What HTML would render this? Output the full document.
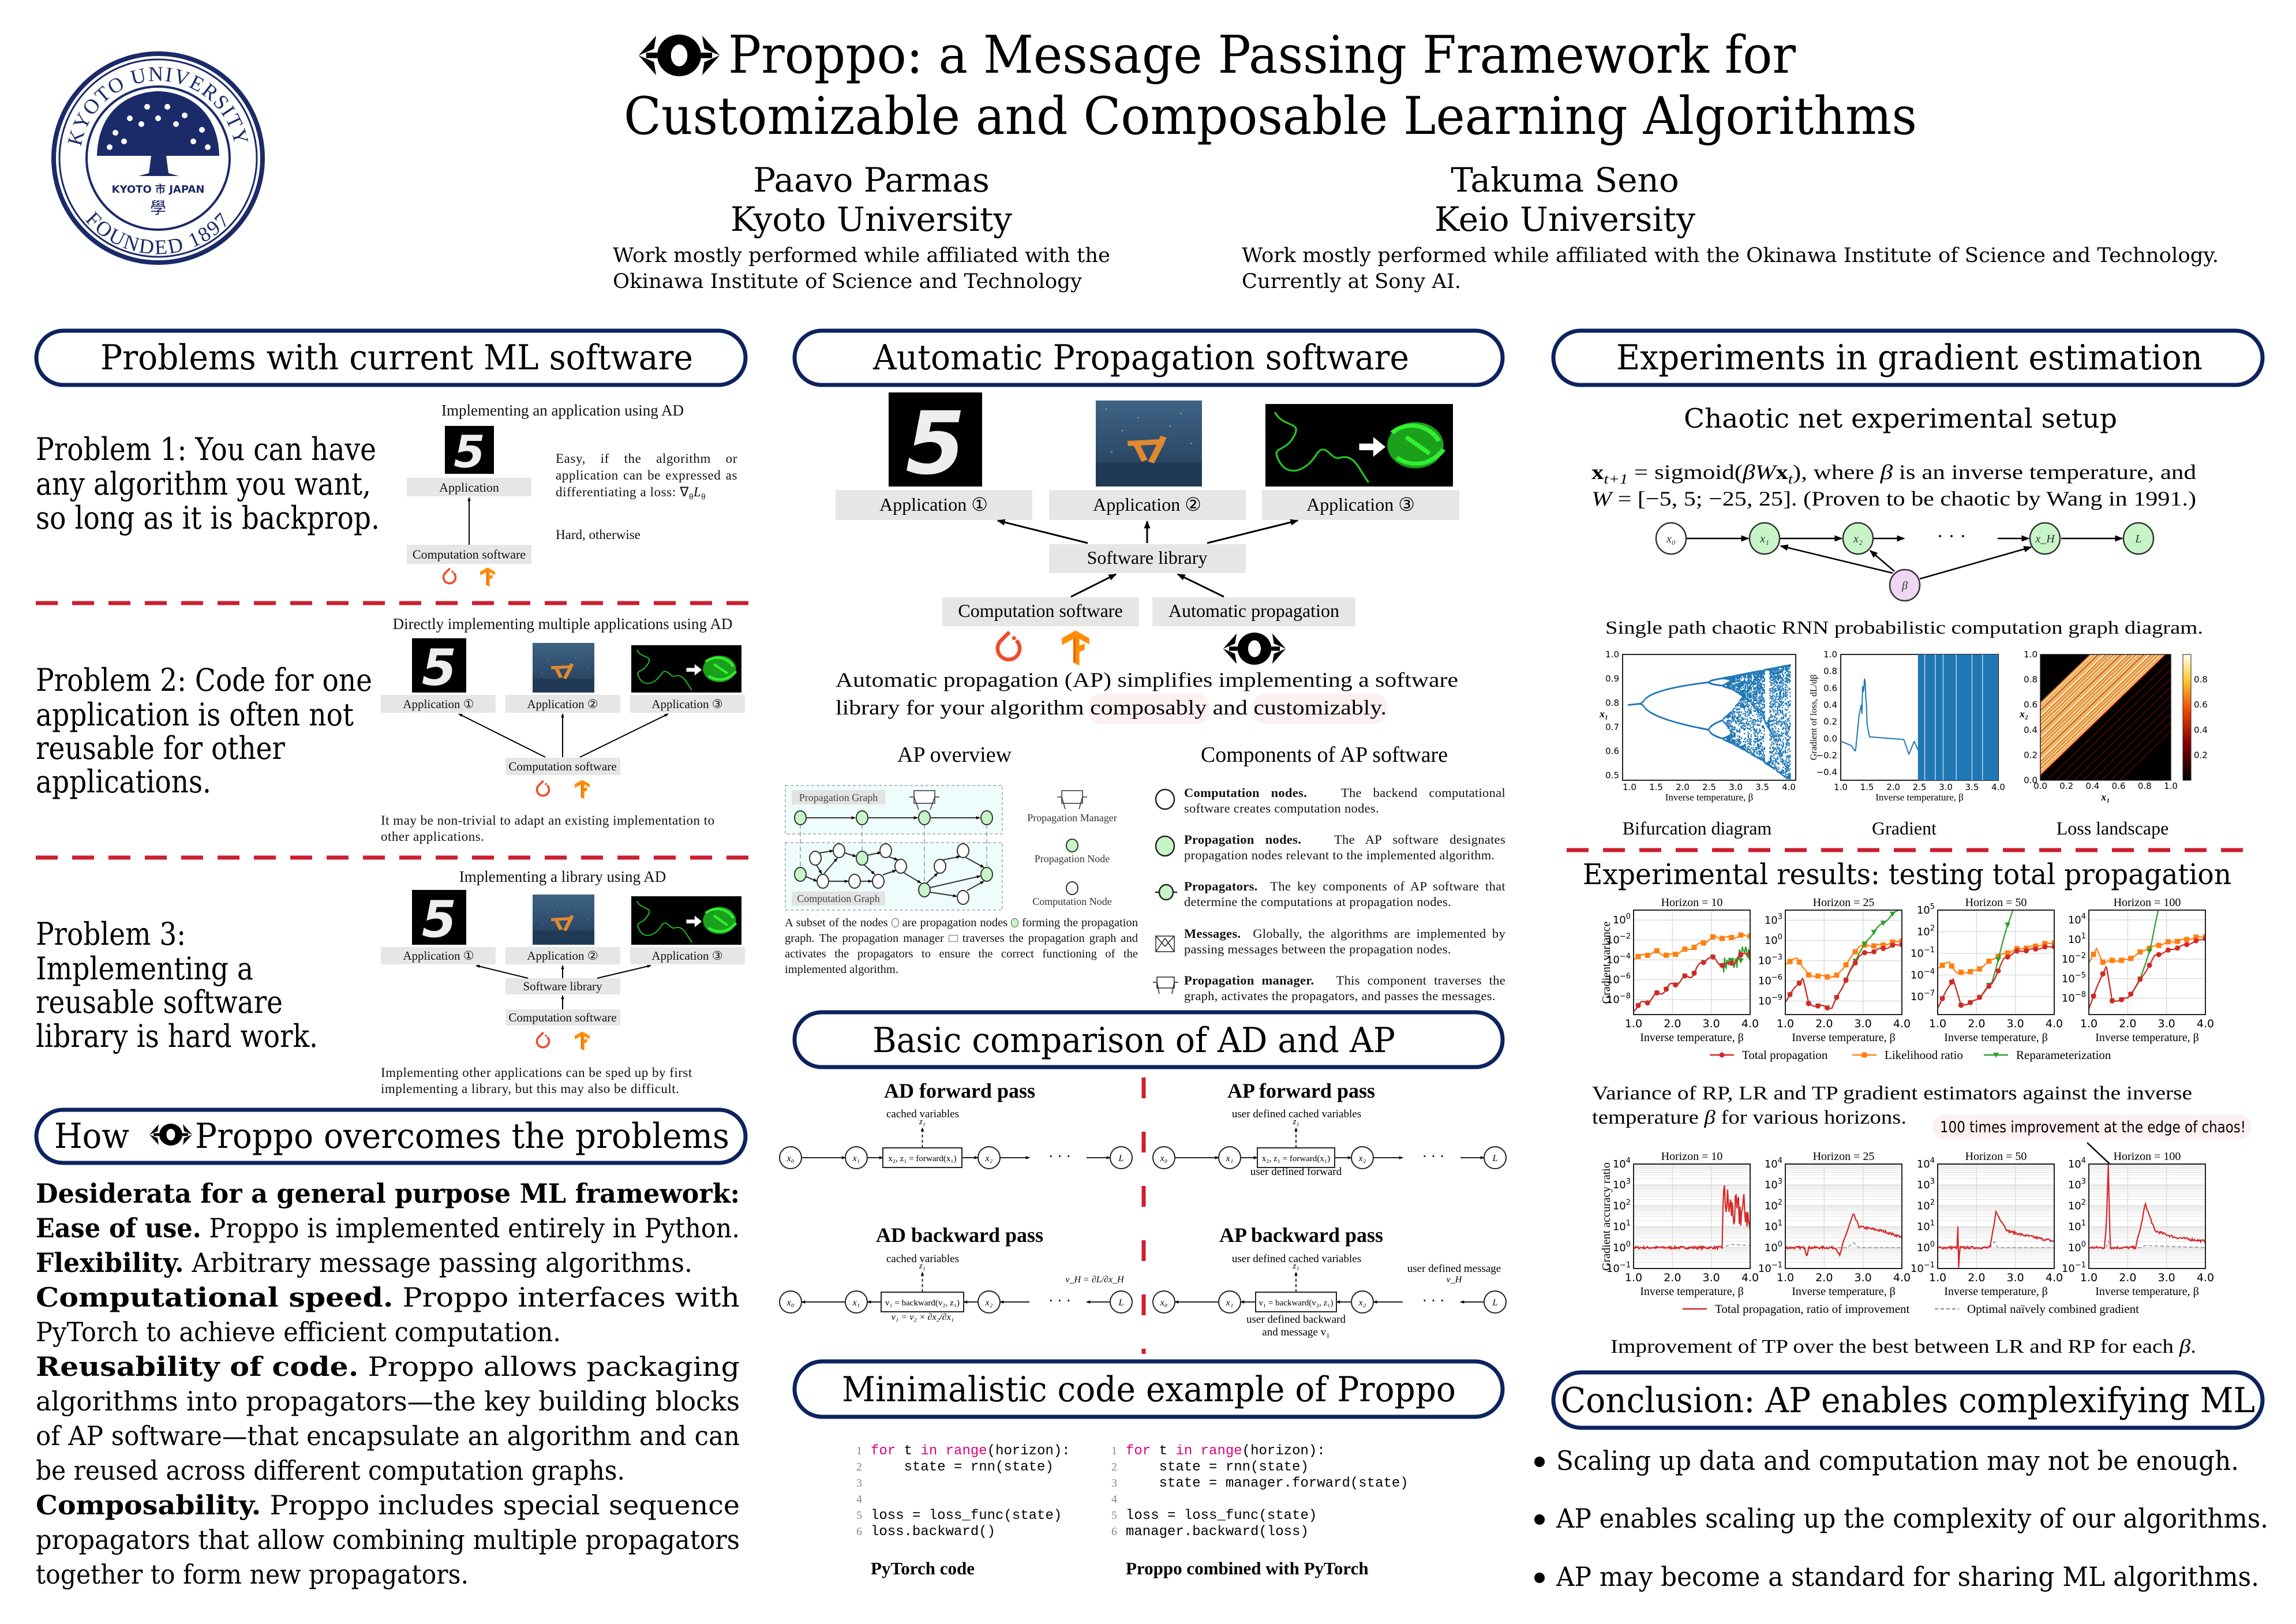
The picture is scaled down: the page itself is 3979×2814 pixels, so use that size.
<!DOCTYPE html>
<html><head><meta charset="utf-8">
<style>
html,body{margin:0;padding:0;background:#fff;}
body{width:3979px;height:2814px;position:relative;overflow:hidden;font-family:"DejaVu Serif","Liberation Serif",serif;}
svg{position:absolute;left:0;top:0;}
.p{position:absolute;font-family:"Liberation Serif",serif;color:#111;text-align:justify;}
.p b{font-weight:bold;}
</style></head><body>
<svg id="S" width="3979" height="2814" viewBox="0 0 3979 2814" xmlns="http://www.w3.org/2000/svg">
<defs>
<marker id="ah" viewBox="0 0 10 10" refX="9" refY="5" markerWidth="7" markerHeight="7" orient="auto-start-reverse" markerUnits="userSpaceOnUse"><path d="M0,1 L10,5 L0,9 z" fill="#000"/></marker>
<marker id="ah2" viewBox="0 0 10 10" refX="9" refY="5" markerWidth="14" markerHeight="14" orient="auto" markerUnits="userSpaceOnUse"><path d="M0,1 L10,5 L0,9 z" fill="#000"/></marker>
<marker id="ah3" viewBox="0 0 10 10" refX="9" refY="5" markerWidth="22" markerHeight="22" orient="auto" markerUnits="userSpaceOnUse"><path d="M0,1 L10,5 L0,9 z" fill="#000"/></marker>
<symbol id="proppo" viewBox="-75 -40 150 80">
<path d="M-74,0 L-42,-36 L-46,-12 Z M-74,0 L-42,36 L-46,12 Z M74,0 L42,-36 L46,-12 Z M74,0 L42,36 L46,12 Z" fill="#000"/>
<ellipse cx="0" cy="0" rx="40" ry="38" fill="#000"/>
<ellipse cx="0" cy="0" rx="15" ry="20" fill="#fff"/>
<rect x="-60" y="-5" width="20" height="10" fill="#000"/><rect x="40" y="-5" width="20" height="10" fill="#000"/>
</symbol>
<symbol id="torch" viewBox="0 0 40 50"><path d="M21,4 L10,15 A14.5,14.5 0 1 0 30,15" fill="none" stroke="#ee4c2c" stroke-width="5"/><circle cx="27" cy="12" r="2.6" fill="#ee4c2c"/></symbol>
<symbol id="tf" viewBox="0 0 40 50"><polygon points="2,12 20,2 38,12 38,20 25,13 25,22 32,19 32,27 25,30 25,48 17,44 17,13 2,21" fill="#ff8c00"/><polygon points="17,13 20,11 20,44 17,44" fill="#e66a00"/></symbol>
<symbol id="mn5" viewBox="0 0 100 100" preserveAspectRatio="none"><rect width="100" height="100" fill="#000"/><text x="50" y="86" font-family="DejaVu Sans" font-weight="bold" font-style="italic" font-size="92" fill="#eee" text-anchor="middle">5</text></symbol>
<linearGradient id="rbg" x1="0" y1="0" x2="0" y2="1"><stop offset="0" stop-color="#3f6384"/><stop offset="0.7" stop-color="#2b4866"/><stop offset="1" stop-color="#1e3550"/></linearGradient>
<symbol id="robot" viewBox="0 0 100 100" preserveAspectRatio="none"><rect width="100" height="100" fill="url(#rbg)"/><rect y="72" width="100" height="28" fill="#203a55"/><path d="M30,50 L62,48 M62,48 L52,72 M38,50 L46,70 M64,42 L60,52" stroke="#e08a30" stroke-width="6" fill="none"/><g fill="#9ab" opacity="0.6"><circle cx="10" cy="10" r="1"/><circle cx="40" cy="20" r="1"/><circle cx="80" cy="15" r="1"/><circle cx="25" cy="35" r="1"/><circle cx="70" cy="30" r="1"/><circle cx="90" cy="50" r="1"/><circle cx="15" cy="60" r="1"/></g></symbol>
<symbol id="protein" viewBox="0 0 200 100" preserveAspectRatio="none"><rect width="200" height="100" fill="#000"/><path d="M10,10 C20,30 40,20 30,40 C20,60 5,50 15,70 C25,90 45,80 55,60 C65,45 70,70 80,65 C95,60 100,80 110,95" stroke="#22cc22" stroke-width="2" fill="none"/><path d="M100,48 L115,48 L115,40 L128,52 L115,64 L115,56 L100,56 Z" fill="#fff"/><ellipse cx="160" cy="50" rx="30" ry="28" fill="#1aa01a"/><path d="M135,35 C150,20 175,25 185,45 M140,65 C160,80 180,70 190,55 M150,40 L175,60" stroke="#33ee33" stroke-width="5" fill="none"/></symbol>
<linearGradient id="cbar" x1="0" y1="1" x2="0" y2="0"><stop offset="0" stop-color="#000"/><stop offset="0.3" stop-color="#8a0000"/><stop offset="0.55" stop-color="#ee4400"/><stop offset="0.8" stop-color="#ffcc33"/><stop offset="1" stop-color="#fffff0"/></linearGradient>
</defs>

<!-- Kyoto logo -->
<g>
<circle cx="274" cy="274" r="181" fill="none" stroke="#1b2a68" stroke-width="8"/>
<circle cx="274" cy="274" r="171" fill="none" stroke="#1b2a68" stroke-width="3"/>
<circle cx="274" cy="274" r="124" fill="none" stroke="#1b2a68" stroke-width="4"/>
<path id="arcT" d="M 146,318 A 135 135 0 1 1 402 318" fill="none"/>
<path id="arcB" d="M 118,331 A 166 166 0 0 0 430 331" fill="none"/>
<text font-family="Liberation Serif" font-size="36" fill="#1b2a68" letter-spacing="2"><textPath href="#arcT" startOffset="50%" text-anchor="middle">KYOTO UNIVERSITY</textPath></text>
<text font-family="Liberation Serif" font-size="36" fill="#1b2a68" letter-spacing="3"><textPath href="#arcB" startOffset="50%" text-anchor="middle">FOUNDED 1897</textPath></text>
<path d="M168,270 C170,195 218,160 274,158 C330,160 378,195 380,270 Z" fill="#1b2a68"/>
<g fill="#fff"><circle cx="200" cy="230" r="5"/><circle cx="225" cy="205" r="5"/><circle cx="255" cy="185" r="5"/><circle cx="290" cy="185" r="5"/><circle cx="320" cy="200" r="5"/><circle cx="350" cy="225" r="5"/><circle cx="190" cy="255" r="5"/><circle cx="215" cy="245" r="5"/><circle cx="245" cy="215" r="5"/><circle cx="305" cy="215" r="5"/><circle cx="335" cy="245" r="5"/><circle cx="360" cy="255" r="5"/><circle cx="274" cy="205" r="5"/></g>
<path d="M262,270 L258,300 L240,305 L310,305 L292,300 L288,270 Z" fill="#1b2a68"/>
<text x="274" y="334" font-family="DejaVu Sans" font-weight="bold" font-size="18" fill="#1b2a68" text-anchor="middle">KYOTO 市 JAPAN</text>
<text x="274" y="370" font-family="Noto Sans CJK JP,sans-serif" font-size="28" fill="#1b2a68" text-anchor="middle">學</text>
</g>

<!-- Title -->
<use href="#proppo" x="1103" y="58" width="148" height="76"/>
<text x="1262" y="126" font-size="90" textLength="1850" lengthAdjust="spacingAndGlyphs">Proppo: a Message Passing Framework for</text>
<text x="1081" y="232" font-size="90" textLength="2241" lengthAdjust="spacingAndGlyphs">Customizable and Composable Learning Algorithms</text>
<g font-size="58" text-anchor="middle">
<text x="1510" y="332">Paavo Parmas</text>
<text x="1510" y="400">Kyoto University</text>
<text x="2712" y="332">Takuma Seno</text>
<text x="2712" y="400">Keio University</text>
</g>
<g font-size="35">
<text x="1062" y="454" textLength="862" lengthAdjust="spacingAndGlyphs">Work mostly performed while affiliated with the</text>
<text x="1062" y="499" textLength="813" lengthAdjust="spacingAndGlyphs">Okinawa Institute of Science and Technology</text>
<text x="2152" y="454" textLength="1693" lengthAdjust="spacingAndGlyphs">Work mostly performed while affiliated with the Okinawa Institute of Science and Technology.</text>
<text x="2152" y="499" textLength="380" lengthAdjust="spacingAndGlyphs">Currently at Sony AI.</text>
</g>

<!-- Section pills -->
<g fill="#fff" stroke="#0d2360" stroke-width="7">
<rect x="63" y="573" width="1229" height="94" rx="47"/>
<rect x="1377" y="573" width="1227" height="94" rx="47"/>
<rect x="2692" y="573" width="1229" height="94" rx="47"/>
<rect x="63" y="1923" width="1229" height="92" rx="46"/>
<rect x="1377" y="1754" width="1227" height="95" rx="47"/>
<rect x="1377" y="2359" width="1227" height="96" rx="48"/>
<rect x="2692" y="2378" width="1229" height="96" rx="48"/>
</g>
<g font-size="60">
<text x="174" y="640" textLength="1027" lengthAdjust="spacingAndGlyphs">Problems with current ML software</text>
<text x="1513" y="640" textLength="929" lengthAdjust="spacingAndGlyphs">Automatic Propagation software</text>
<text x="2801" y="640" textLength="1016" lengthAdjust="spacingAndGlyphs">Experiments in gradient estimation</text>
<text x="94" y="1989" textLength="130" lengthAdjust="spacingAndGlyphs">How</text>
<text x="338" y="1989" textLength="926" lengthAdjust="spacingAndGlyphs">Proppo overcomes the problems</text>
<text x="1512" y="1823" textLength="906" lengthAdjust="spacingAndGlyphs">Basic comparison of AD and AP</text>
<text x="1459" y="2428" textLength="1064" lengthAdjust="spacingAndGlyphs">Minimalistic code example of Proppo</text>
<text x="2705" y="2447" textLength="1203" lengthAdjust="spacingAndGlyphs">Conclusion: AP enables complexifying ML</text>
</g>
<use href="#proppo" x="258" y="1946" width="76" height="40"/>

<!-- LEFT: problems -->
<g font-size="54">
<text x="62" y="797" textLength="590" lengthAdjust="spacingAndGlyphs">Problem 1: You can have</text>
<text x="62" y="857" textLength="581" lengthAdjust="spacingAndGlyphs">any algorithm you want,</text>
<text x="62" y="916" textLength="596" lengthAdjust="spacingAndGlyphs">so long as it is backprop.</text>
<text x="62" y="1197" textLength="583" lengthAdjust="spacingAndGlyphs">Problem 2: Code for one</text>
<text x="62" y="1257" textLength="551" lengthAdjust="spacingAndGlyphs">application is often not</text>
<text x="62" y="1315" textLength="432" lengthAdjust="spacingAndGlyphs">reusable for other</text>
<text x="62" y="1373" textLength="304" lengthAdjust="spacingAndGlyphs">applications.</text>
<text x="62" y="1637" textLength="260" lengthAdjust="spacingAndGlyphs">Problem 3:</text>
<text x="62" y="1697" textLength="377" lengthAdjust="spacingAndGlyphs">Implementing a</text>
<text x="62" y="1755" textLength="428" lengthAdjust="spacingAndGlyphs">reusable software</text>
<text x="62" y="1814" textLength="489" lengthAdjust="spacingAndGlyphs">library is hard work.</text>
</g>
<g stroke="#cc1f2f" stroke-width="7" stroke-dasharray="38 25">
<line x1="62" y1="1045" x2="1308" y2="1045"/>
<line x1="62" y1="1486" x2="1308" y2="1486"/>
<line x1="2715" y1="1473" x2="3894" y2="1473"/>
<line x1="1982" y1="1867" x2="1982" y2="2346" stroke-dasharray="36 58"/>
</g>

<!-- diag 1 -->
<g font-family="Liberation Serif" fill="#111">
<text x="975" y="720" font-size="27" text-anchor="middle">Implementing an application using AD</text>
<use href="#mn5" x="771" y="738" width="85" height="83"/>
<rect x="705" y="828" width="216" height="32" fill="#e6e6e6"/>
<text x="813" y="852" font-size="22" text-anchor="middle">Application</text>
<line x1="813" y1="944" x2="813" y2="862" stroke="#000" stroke-width="2" marker-end="url(#ah)"/>
<rect x="705" y="944" width="216" height="33" fill="#e6e6e6"/>
<text x="813" y="968" font-size="22" text-anchor="middle">Computation software</text>
<use href="#torch" x="764" y="982" width="30" height="36"/>
<use href="#tf" x="830" y="982" width="30" height="36"/>
<text x="963" y="934" font-size="23">Hard, otherwise</text>

<!-- diag 2 -->
<text x="975" y="1090" font-size="27" text-anchor="middle">Directly implementing multiple applications using AD</text>
<use href="#mn5" x="714" y="1106" width="94" height="94"/>
<use href="#robot" x="923" y="1114" width="107" height="86"/>
<use href="#protein" x="1094" y="1118" width="191" height="82"/>
<rect x="660" y="1204" width="199" height="31" fill="#e6e6e6"/>
<rect x="876" y="1204" width="199" height="31" fill="#e6e6e6"/>
<rect x="1092" y="1204" width="199" height="31" fill="#e6e6e6"/>
<text x="760" y="1227" font-size="21" text-anchor="middle">Application ①</text>
<text x="975" y="1227" font-size="21" text-anchor="middle">Application ②</text>
<text x="1191" y="1227" font-size="21" text-anchor="middle">Application ③</text>
<rect x="876" y="1313" width="199" height="30" fill="#e6e6e6"/>
<text x="975" y="1335" font-size="21" text-anchor="middle">Computation software</text>
<g stroke="#000" stroke-width="2" marker-end="url(#ah)"><line x1="945" y1="1312" x2="795" y2="1237"/><line x1="975" y1="1312" x2="975" y2="1237"/><line x1="1005" y1="1312" x2="1158" y2="1237"/></g>
<use href="#torch" x="926" y="1350" width="30" height="36"/>
<use href="#tf" x="994" y="1350" width="30" height="36"/>

<!-- diag 3 -->
<text x="975" y="1528" font-size="27" text-anchor="middle">Implementing a library using AD</text>
<use href="#mn5" x="714" y="1542" width="94" height="95"/>
<use href="#robot" x="923" y="1550" width="107" height="87"/>
<use href="#protein" x="1094" y="1553" width="191" height="84"/>
<rect x="660" y="1641" width="199" height="30" fill="#e6e6e6"/>
<rect x="876" y="1641" width="199" height="30" fill="#e6e6e6"/>
<rect x="1092" y="1641" width="199" height="30" fill="#e6e6e6"/>
<text x="760" y="1663" font-size="21" text-anchor="middle">Application ①</text>
<text x="975" y="1663" font-size="21" text-anchor="middle">Application ②</text>
<text x="1191" y="1663" font-size="21" text-anchor="middle">Application ③</text>
<rect x="876" y="1695" width="199" height="28" fill="#e6e6e6"/>
<text x="975" y="1716" font-size="21" text-anchor="middle">Software library</text>
<rect x="876" y="1749" width="199" height="28" fill="#e6e6e6"/>
<text x="975" y="1770" font-size="21" text-anchor="middle">Computation software</text>
<g stroke="#000" stroke-width="2" marker-end="url(#ah)"><line x1="915" y1="1695" x2="825" y2="1673"/><line x1="975" y1="1695" x2="975" y2="1673"/><line x1="1035" y1="1695" x2="1128" y2="1673"/><line x1="975" y1="1749" x2="975" y2="1725"/></g>
<use href="#torch" x="926" y="1786" width="30" height="36"/>
<use href="#tf" x="994" y="1786" width="30" height="36"/>
</g>

<!-- How section -->
<g font-size="46">
<text x="62" y="2084" textLength="1220" lengthAdjust="spacingAndGlyphs" font-weight="bold">Desiderata for a general purpose ML framework:</text>
<text x="62" y="2144" textLength="1220" lengthAdjust="spacingAndGlyphs"><tspan font-weight="bold">Ease of use.</tspan> Proppo is implemented entirely in Python.</text>
<text x="62" y="2204" textLength="1138" lengthAdjust="spacingAndGlyphs"><tspan font-weight="bold">Flexibility.</tspan> Arbitrary message passing algorithms.</text>
<text x="62" y="2264" textLength="1220" lengthAdjust="spacingAndGlyphs"><tspan font-weight="bold">Computational speed.</tspan>  Proppo interfaces with</text>
<text x="62" y="2324" textLength="910" lengthAdjust="spacingAndGlyphs">PyTorch to achieve efficient computation.</text>
<text x="62" y="2384" textLength="1220" lengthAdjust="spacingAndGlyphs"><tspan font-weight="bold">Reusability of code.</tspan>  Proppo allows packaging</text>
<text x="62" y="2444" textLength="1220" lengthAdjust="spacingAndGlyphs">algorithms into propagators—the key building blocks</text>
<text x="62" y="2504" textLength="1220" lengthAdjust="spacingAndGlyphs">of AP software—that encapsulate an algorithm and can</text>
<text x="62" y="2564" textLength="1021" lengthAdjust="spacingAndGlyphs">be reused across different computation graphs.</text>
<text x="62" y="2624" textLength="1220" lengthAdjust="spacingAndGlyphs"><tspan font-weight="bold">Composability.</tspan>  Proppo includes special sequence</text>
<text x="62" y="2684" textLength="1220" lengthAdjust="spacingAndGlyphs">propagators that allow combining multiple propagators</text>
<text x="62" y="2744" textLength="750" lengthAdjust="spacingAndGlyphs">together to form new propagators.</text>
</g>

<!-- MIDDLE top -->
<g font-family="Liberation Serif">
<use href="#mn5" x="1540" y="680" width="162" height="163"/>
<use href="#robot" x="1899" y="694" width="184" height="149"/>
<use href="#protein" x="2193" y="700" width="325" height="143"/>
<rect x="1448" y="849" width="341" height="52" fill="#e6e6e6"/>
<rect x="1818" y="849" width="341" height="52" fill="#e6e6e6"/>
<rect x="2187" y="849" width="342" height="52" fill="#e6e6e6"/>
<text x="1618" y="885" font-size="32" text-anchor="middle">Application ①</text>
<text x="1988" y="885" font-size="32" text-anchor="middle">Application ②</text>
<text x="2358" y="885" font-size="32" text-anchor="middle">Application ③</text>
<rect x="1818" y="943" width="341" height="50" fill="#e6e6e6"/>
<text x="1988" y="977" font-size="32" text-anchor="middle">Software library</text>
<rect x="1633" y="1035" width="341" height="50" fill="#e6e6e6"/>
<rect x="1997" y="1035" width="352" height="50" fill="#e6e6e6"/>
<text x="1803" y="1069" font-size="32" text-anchor="middle">Computation software</text>
<text x="2173" y="1069" font-size="32" text-anchor="middle">Automatic propagation</text>
<g stroke="#000" stroke-width="3" marker-end="url(#ah2)"><line x1="1885" y1="941" x2="1729" y2="902"/><line x1="1988" y1="941" x2="1988" y2="903"/><line x1="2092" y1="941" x2="2249" y2="902"/><line x1="1856" y1="1034" x2="1934" y2="995"/><line x1="2121" y1="1034" x2="2041" y2="995"/></g>
<use href="#torch" x="1720" y="1090" width="56" height="66"/>
<use href="#tf" x="1836" y="1090" width="56" height="66"/>
<use href="#proppo" x="2119" y="1094" width="110" height="60"/>
<rect x="1886" y="1202" width="210" height="52" rx="22" fill="#fdf0f0"/>
<rect x="2171" y="1202" width="233" height="52" rx="22" fill="#fdf0f0"/>
<text x="1448" y="1190" font-size="36" textLength="1079" lengthAdjust="spacingAndGlyphs">Automatic propagation (AP) simplifies implementing a software</text>
<text x="1448" y="1238" font-size="36" textLength="955" lengthAdjust="spacingAndGlyphs">library for your algorithm composably and customizably.</text>
<text x="1654" y="1320" font-size="38" text-anchor="middle">AP overview</text>
<text x="2295" y="1320" font-size="38" text-anchor="middle">Components of AP software</text>
</g>

<!-- AP overview diagram -->
<g font-family="Liberation Serif">
<rect x="1361" y="1361" width="376" height="84" fill="#eefcfc" stroke="#bbb" stroke-width="2" stroke-dasharray="5 4"/>
<rect x="1361" y="1460" width="376" height="117" fill="#eefcfc" stroke="#bbb" stroke-width="2" stroke-dasharray="5 4"/>
<rect x="1372" y="1369" width="162" height="25" fill="#e3e3e3"/>
<text x="1453" y="1388" font-size="18" text-anchor="middle" fill="#444">Propagation Graph</text>
<rect x="1372" y="1545" width="162" height="24" fill="#e3e3e3"/>
<text x="1453" y="1563" font-size="18" text-anchor="middle" fill="#444">Computation Graph</text>
<g stroke="#999" stroke-width="1.5" stroke-dasharray="8 5"><line x1="1387" y1="1428" x2="1387" y2="1502"/><line x1="1494" y1="1428" x2="1494" y2="1474"/><line x1="1602" y1="1428" x2="1602" y2="1529"/><line x1="1710" y1="1428" x2="1710" y2="1502"/></g>
<g stroke="#333" stroke-width="2" marker-end="url(#ah)"><line x1="1398" y1="1417" x2="1482" y2="1417"/><line x1="1505" y1="1417" x2="1590" y2="1417"/><line x1="1613" y1="1417" x2="1698" y2="1417"/>
<line x1="1387" y1="1515" x2="1416" y2="1527"/><line x1="1415" y1="1499" x2="1424" y2="1514"/><line x1="1428" y1="1514" x2="1451" y2="1487"/><line x1="1420" y1="1478" x2="1444" y2="1474"/><line x1="1437" y1="1527" x2="1470" y2="1527"/><line x1="1492" y1="1527" x2="1511" y2="1527"/><line x1="1464" y1="1478" x2="1484" y2="1484"/><line x1="1503" y1="1482" x2="1527" y2="1477"/><line x1="1498" y1="1499" x2="1516" y2="1515"/><line x1="1541" y1="1485" x2="1556" y2="1490"/><line x1="1530" y1="1516" x2="1553" y2="1508"/><line x1="1566" y1="1512" x2="1596" y2="1530"/><line x1="1606" y1="1530" x2="1625" y2="1513"/><line x1="1634" y1="1490" x2="1664" y2="1484"/><line x1="1674" y1="1486" x2="1705" y2="1503"/><line x1="1612" y1="1538" x2="1699" y2="1518"/><line x1="1612" y1="1546" x2="1658" y2="1553"/><line x1="1676" y1="1543" x2="1705" y2="1527"/></g>
<g stroke="#333" stroke-width="2"><g fill="#c8f5c8"><ellipse cx="1387" cy="1417" rx="10" ry="12"/><ellipse cx="1494" cy="1417" rx="10" ry="12"/><ellipse cx="1602" cy="1417" rx="10" ry="12"/><ellipse cx="1710" cy="1417" rx="10" ry="12"/><ellipse cx="1387" cy="1515" rx="10" ry="12"/><ellipse cx="1494" cy="1487" rx="10" ry="12"/><ellipse cx="1602" cy="1542" rx="10" ry="12"/><ellipse cx="1710" cy="1515" rx="10" ry="12"/></g>
<g fill="#fff"><ellipse cx="1413" cy="1487" rx="10" ry="12"/><ellipse cx="1426" cy="1527" rx="10" ry="12"/><ellipse cx="1454" cy="1474" rx="10" ry="12"/><ellipse cx="1481" cy="1527" rx="10" ry="12"/><ellipse cx="1522" cy="1527" rx="10" ry="12"/><ellipse cx="1535" cy="1474" rx="10" ry="12"/><ellipse cx="1561" cy="1501" rx="10" ry="12"/><ellipse cx="1629" cy="1501" rx="10" ry="12"/><ellipse cx="1669" cy="1474" rx="10" ry="12"/><ellipse cx="1669" cy="1555" rx="10" ry="12"/></g></g>
<g stroke="#333" stroke-width="1.5" fill="#fff"><rect x="1584" y="1370" width="36" height="22"/><polyline points="1576,1381 1584,1381 1592,1403" fill="none"/><polyline points="1628,1381 1620,1381 1612,1403" fill="none"/>
<rect x="1840" y="1370" width="36" height="22"/><polyline points="1832,1381 1840,1381 1846,1402" fill="none"/><polyline points="1884,1381 1876,1381 1870,1402" fill="none"/></g>
<text x="1858" y="1423" font-size="18" text-anchor="middle" fill="#333">Propagation Manager</text>
<ellipse cx="1858" cy="1465" rx="10" ry="11" fill="#c8f5c8" stroke="#333" stroke-width="2"/>
<text x="1858" y="1494" font-size="18" text-anchor="middle" fill="#333">Propagation Node</text>
<ellipse cx="1858" cy="1539" rx="10" ry="11" fill="#fff" stroke="#333" stroke-width="2"/>
<text x="1858" y="1568" font-size="18" text-anchor="middle" fill="#333">Computation Node</text>
<g stroke="#222" stroke-width="2.5"><ellipse cx="2019" cy="1385" rx="16" ry="17" fill="#fff"/><ellipse cx="2019" cy="1466" rx="16" ry="17" fill="#c8f5c8"/><ellipse cx="2021" cy="1546" rx="12" ry="13" fill="#c8f5c8"/>
<line x1="2002" y1="1546" x2="2009" y2="1546"/><line x1="2033" y1="1546" x2="2040" y2="1546"/>
<rect x="2003" y="1622" width="32" height="27" fill="#fff" stroke-width="1.5"/><polyline points="2003,1649 2019,1626 2035,1649" fill="none" stroke-width="1.5"/><polyline points="2003,1622 2019,1640 2035,1622" fill="none" stroke-width="1.5"/>
<rect x="2005" y="1693" width="30" height="19" fill="#fff" stroke-width="1.5"/><polyline points="1998,1702 2005,1702 2009,1722" fill="none" stroke-width="1.5"/><polyline points="2042,1702 2035,1702 2031,1722" fill="none" stroke-width="1.5"/></g>
</g>

<g id="adap" font-family="Liberation Serif"></g>

<!-- Code -->
<g font-family="Liberation Mono" font-size="24">
<g fill="#888" font-family="Liberation Serif" font-size="20" text-anchor="end">
<text x="1494" y="2520">1</text><text x="1494" y="2548">2</text><text x="1494" y="2576">3</text><text x="1494" y="2604">4</text><text x="1494" y="2632">5</text><text x="1494" y="2660">6</text>
<text x="1936" y="2520">1</text><text x="1936" y="2548">2</text><text x="1936" y="2576">3</text><text x="1936" y="2604">4</text><text x="1936" y="2632">5</text><text x="1936" y="2660">6</text>
</g>
<text x="1509" y="2520" xml:space="preserve"><tspan fill="#e0007a">for</tspan> t <tspan fill="#e0007a">in</tspan> <tspan fill="#e0007a">range</tspan>(horizon):</text>
<text x="1509" y="2548" xml:space="preserve">    state = rnn(state)</text>
<text x="1509" y="2632">loss = loss_func(state)</text>
<text x="1509" y="2660">loss.backward()</text>
<text x="1951" y="2520" xml:space="preserve"><tspan fill="#e0007a">for</tspan> t <tspan fill="#e0007a">in</tspan> <tspan fill="#e0007a">range</tspan>(horizon):</text>
<text x="1951" y="2548" xml:space="preserve">    state = rnn(state)</text>
<text x="1951" y="2576" xml:space="preserve">    state = manager.forward(state)</text>
<text x="1951" y="2632">loss = loss_func(state)</text>
<text x="1951" y="2660">manager.backward(loss)</text>
</g>
<g font-family="Liberation Serif" font-size="31" font-weight="bold">
<text x="1509" y="2728">PyTorch code</text>
<text x="1951" y="2728">Proppo combined with PyTorch</text>
</g>

<!-- RIGHT column -->
<g font-family="Liberation Serif">
<text x="2918" y="741" font-size="46" font-family="DejaVu Serif" textLength="751" lengthAdjust="spacingAndGlyphs">Chaotic net experimental setup</text>
<text x="2758" y="830" font-size="36" textLength="1048" lengthAdjust="spacingAndGlyphs"><tspan font-weight="bold">x</tspan><tspan font-size="24" font-style="italic" dy="8">t+1</tspan><tspan dy="-8"> = sigmoid(</tspan><tspan font-style="italic">βW</tspan><tspan font-weight="bold">x</tspan><tspan font-style="italic" font-size="24" dy="8">t</tspan><tspan dy="-8">), where </tspan><tspan font-style="italic">β</tspan> is an inverse temperature, and</text>
<text x="2758" y="876" font-size="36" textLength="1048" lengthAdjust="spacingAndGlyphs"><tspan font-style="italic">W</tspan> = [−5, 5; −25, 25]. (Proven to be chaotic by Wang in 1991.)</text>
<g stroke="#000" stroke-width="2.5" marker-end="url(#ah2)"><line x1="2923" y1="933" x2="3030" y2="933"/><line x1="3085" y1="933" x2="3192" y2="933"/><line x1="3247" y1="933" x2="3300" y2="933"/><line x1="3462" y1="933" x2="3516" y2="933"/><line x1="3572" y1="933" x2="3678" y2="933"/><line x1="3280" y1="993" x2="3086" y2="946"/><line x1="3283" y1="990" x2="3241" y2="954"/><line x1="3327" y1="1003" x2="3520" y2="948"/></g>
<text x="3382" y="940" font-size="34" text-anchor="middle">· · ·</text>
<g stroke="#333" stroke-width="2.5"><ellipse cx="2896" cy="933" rx="26" ry="27" fill="#fff"/><ellipse cx="3058" cy="933" rx="26" ry="27" fill="#c8f5c8"/><ellipse cx="3220" cy="933" rx="26" ry="27" fill="#c8f5c8"/><ellipse cx="3544" cy="933" rx="26" ry="27" fill="#c8f5c8"/><ellipse cx="3706" cy="933" rx="26" ry="27" fill="#c8f5c8"/><ellipse cx="3301" cy="1014" rx="26" ry="27" fill="#efd6f3"/></g>
<g font-size="20" font-style="italic" text-anchor="middle" fill="#333"><text x="2896" y="940">x₀</text><text x="3058" y="940">x₁</text><text x="3220" y="940">x₂</text><text x="3544" y="940">x_H</text><text x="3706" y="940">L</text><text x="3301" y="1021">β</text></g>
<text x="3300" y="1098" font-size="32" text-anchor="middle" textLength="1036" lengthAdjust="spacingAndGlyphs">Single path chaotic RNN probabilistic computation graph diagram.</text>
<g font-size="32" text-anchor="middle"><text x="2941" y="1446">Bifurcation diagram</text><text x="3300" y="1446">Gradient</text><text x="3661" y="1446">Loss landscape</text></g>
<text x="2743" y="1532" font-size="50" font-family="DejaVu Serif" textLength="1124" lengthAdjust="spacingAndGlyphs">Experimental results: testing total propagation</text>
<text x="2759" y="1905" font-size="34" textLength="1040" lengthAdjust="spacingAndGlyphs">Variance of RP, LR and TP gradient estimators against the inverse</text>
<text x="2759" y="1947" font-size="34" textLength="545" lengthAdjust="spacingAndGlyphs">temperature <tspan font-style="italic">β</tspan> for various horizons.</text>
<rect x="3349" y="1932" width="553" height="42" rx="21" fill="#fdf0f0"/>
<text x="3362" y="1962" font-size="27" font-family="DejaVu Sans" textLength="530" lengthAdjust="spacingAndGlyphs">100 times improvement at the edge of chaos!</text>
<line x1="3617" y1="1980" x2="3714" y2="2071" stroke="#000" stroke-width="2.5" marker-end="url(#ah3)"/>
<text x="2791" y="2344" font-size="34" textLength="1015" lengthAdjust="spacingAndGlyphs">Improvement of TP over the best between LR and RP for each <tspan font-style="italic">β</tspan>.</text>
</g>
<g id="plots" font-family="Liberation Serif"></g>

<!-- Conclusion -->
<g font-size="46">
<circle cx="2668" cy="2533" r="9" fill="#000"/><circle cx="2668" cy="2633" r="9" fill="#000"/><circle cx="2668" cy="2734" r="9" fill="#000"/>
<text x="2697" y="2547" textLength="1183" lengthAdjust="spacingAndGlyphs">Scaling up data and computation may not be enough.</text>
<text x="2697" y="2647" textLength="1234" lengthAdjust="spacingAndGlyphs">AP enables scaling up the complexity of our algorithms.</text>
<text x="2697" y="2748" textLength="1218" lengthAdjust="spacingAndGlyphs">AP may become a standard for sharing ML algorithms.</text>
</g>
</svg>

<div class="p" style="left:963px;top:780px;width:315px;font-size:23px;line-height:29px;letter-spacing:0.6px;">Easy, if the algorithm or application can be expressed as differentiating a loss: ∇<sub style="font-size:15px">θ</sub><i>L</i><sub style="font-size:15px">θ</sub></div>
<div class="p" style="left:660px;top:1408px;width:600px;font-size:23px;line-height:28px;text-align:left;letter-spacing:0.5px">It may be non-trivial to adapt an existing implementation to other applications.</div>
<div class="p" style="left:660px;top:1845px;width:590px;font-size:23px;line-height:28px;text-align:left;letter-spacing:0.5px">Implementing other applications can be sped up by first implementing a library, but this may also be difficult.</div>
<div class="p" style="left:1360px;top:1586px;width:612px;font-size:20.5px;line-height:27px;">A subset of the nodes <span style="display:inline-block;width:11px;height:14px;border:1.5px solid #555;border-radius:50%;vertical-align:-2px"></span> are propagation nodes <span style="display:inline-block;width:11px;height:14px;border:1.5px solid #555;border-radius:50%;background:#c8f5c8;vertical-align:-2px"></span> forming the propagation graph. The propagation manager <span style="display:inline-block;width:14px;height:10px;border:1.5px solid #777;vertical-align:0"></span> traverses the propagation graph and activates the propagators to ensure the correct functioning of the implemented algorithm.</div>
<div class="p" style="left:2052px;top:1360px;width:557px;font-size:22.5px;line-height:27px;letter-spacing:0.3px"><b>Computation nodes.</b> &nbsp; The backend computational software creates computation nodes.</div>
<div class="p" style="left:2052px;top:1441px;width:557px;font-size:22.5px;line-height:27px;letter-spacing:0.3px"><b>Propagation nodes.</b> &nbsp; The AP software designates propagation nodes relevant to the implemented algorithm.</div>
<div class="p" style="left:2052px;top:1522px;width:557px;font-size:22.5px;line-height:27px;letter-spacing:0.3px"><b>Propagators.</b> &nbsp;The key components of AP software that determine the computations at propagation nodes.</div>
<div class="p" style="left:2052px;top:1604px;width:557px;font-size:22.5px;line-height:27px;letter-spacing:0.3px"><b>Messages.</b> &nbsp;Globally, the algorithms are implemented by passing messages between the propagation nodes.</div>
<div class="p" style="left:2052px;top:1685px;width:557px;font-size:22.5px;line-height:27px;letter-spacing:0.3px"><b>Propagation manager.</b> &nbsp; This component traverses the graph, activates the propagators, and passes the messages.</div>

<script>
const NS='http://www.w3.org/2000/svg';
function el(tag,a,par,txt){const e=document.createElementNS(NS,tag);for(const k in a)e.setAttribute(k,a[k]);if(txt!=null)e.textContent=txt;par.appendChild(e);return e;}
const P=document.getElementById('plots');
let seed=7;function rnd(){seed=(seed*16807)%2147483647;return seed/2147483647;}
let cid=0;
function clip(x,y,w,h){const id='c'+(cid++);const c=el('clipPath',{id},P);el('rect',{x,y,width:w,height:h},c);return 'url(#'+id+')';}
function pw(ctrl,b){for(let i=0;i<ctrl.length-1;i++){if(b<=ctrl[i+1][0]){const t=(b-ctrl[i][0])/(ctrl[i+1][0]-ctrl[i][0]);return ctrl[i][1]+t*(ctrl[i+1][1]-ctrl[i][1]);}}return ctrl[ctrl.length-1][1];}
function xlab(x,y,w,h,ticks){const g=P;ticks.forEach((t,i)=>{const xx=x+w*i/(ticks.length-1);el('text',{x:xx,y:y+h+22,'font-size':19,'text-anchor':'middle','font-family':'DejaVu Sans'},g,t);});el('text',{x:x+w/2,y:y+h+46,'font-size':20,'text-anchor':'middle'},g,'Inverse temperature, β');}
function logLabel(x,y,e){const t=el('text',{x:x,y:y+6,'font-size':18,'text-anchor':'end','font-family':'DejaVu Sans'},P);el('tspan',{},t,'10');el('tspan',{dy:-8,'font-size':13},t,String(e).replace('-','−'));}
function varPlot(x,y,w,h,title,ymin,ymax,ticks,curves,row2){
 el('rect',{x,y,width:w,height:h,fill:'#fff'},P);
 if(row2){for(let e=Math.ceil(ymin);e<ymax;e++){for(let k=1;k<10;k++){const v=e+Math.log10(k);const yy=y+h-(v-ymin)/(ymax-ymin)*h;el('line',{x1:x,x2:x+w,y1:yy,y2:yy,stroke:'#e4e4e4','stroke-width':1.2},P);}}}
 [1/3,2/3].forEach(f=>el('line',{x1:x+w*f,x2:x+w*f,y1:y,y2:y+h,stroke:'#ddd','stroke-width':1.5},P));
 ticks.forEach(t=>{const yy=y+h-(t-ymin)/(ymax-ymin)*h;el('line',{x1:x,x2:x+w,y1:yy,y2:yy,stroke:'#ddd','stroke-width':1.5},P);logLabel(x-5,yy,t);});
 const cp=clip(x,y,w,h);const g=el('g',{'clip-path':cp},P);
 curves.forEach(c=>{let pts=[];const mk=[];for(let i=0;i<=150;i++){const b=1+3*i/150;let v=c.f(b);pts.push([x+(b-1)/3*w,y+h-(v-ymin)/(ymax-ymin)*h]);if(c.m&&i%12==6)mk.push(pts[pts.length-1]);}
  el('polyline',{points:pts.map(p=>p[0].toFixed(1)+','+p[1].toFixed(1)).join(' '),fill:'none',stroke:c.col,'stroke-width':c.sw||2.2,'stroke-dasharray':c.dash||'none'},g);
  mk.forEach(p=>{if(c.m=='o')el('circle',{cx:p[0],cy:p[1],r:4.5,fill:c.col},g);else if(c.m=='s')el('rect',{x:p[0]-4.5,y:p[1]-4.5,width:9,height:9,fill:c.col},g);else el('path',{d:`M${p[0]-5},${p[1]-4}L${p[0]+5},${p[1]-4}L${p[0]},${p[1]+5}Z`,fill:c.col},g);});});
 el('rect',{x,y,width:w,height:h,fill:'none',stroke:'#222','stroke-width':2},P);
 el('text',{x:x+w/2,y:y-7,'font-size':20,'text-anchor':'middle'},P,title);
 xlab(x,y,w,h,['1.0','2.0','3.0','4.0']);
}
const R='#d62728',O='#ff7f0e',G='#2ca02c';
const X=[2831,3094,3358,3620],W=202;
const Y1=1577,H1=181;
function mkc(ctrl,w,col,m,noise){return {col,m,f:b=>pw(ctrl,b)+w*Math.sin(b*17)+(noise&&b>noise[0]?(rnd()-0.5)*noise[1]:0)};}
varPlot(X[0],Y1,W,H1,'Horizon = 10',-9.5,1,[0,-2,-4,-6,-8],[
 mkc([[1,-3.8],[1.6,-3.2],[1.9,-3.6],[2.5,-2.8],[3.1,-1.7],[3.4,-1.8],[4,-1.5]],0.12,O,'s'),
 mkc([[1,-8.9],[1.5,-7.8],[2,-6.5],[2.5,-5.5],[2.9,-3.7],[3.4,-4.6],[4,-3.1]],0.25,G,'v',[3.3,1.6]),
 mkc([[1,-8.9],[1.5,-7.8],[2,-6.5],[2.5,-5.5],[2.9,-3.7],[3.4,-4.6],[4,-3.1]],0.25,R,'o')]);
varPlot(X[1],Y1,W,H1,'Horizon = 25',-11,4.5,[3,0,-3,-6,-9],[
 mkc([[1,-3.5],[1.3,-2.6],[1.6,-5.2],[2.3,-5.4],[2.6,-3.3],[2.9,-0.8],[3.5,-0.7],[4,0]],0.1,O,'s'),
 mkc([[1,-9],[1.45,-5.5],[1.6,-9.5],[2.2,-10],[2.5,-6.5],[2.9,-1.8],[3.3,1.5],[3.7,3.5],[4,5]],0.15,G,'v'),
 mkc([[1,-9],[1.45,-5.5],[1.6,-9.5],[2.2,-10],[2.5,-6.5],[2.9,-2.2],[3.5,-1.2],[4,-0.5]],0.15,R,'o')]);
varPlot(X[2],Y1,W,H1,'Horizon = 50',-9.5,5,[5,2,-1,-4,-7],[
 mkc([[1,-3],[1.3,-2.2],[1.5,-3.8],[2,-3.4],[2.5,-1.5],[3,-0.5],[4,0.5]],0.1,O,'s'),
 mkc([[1,-8.5],[1.4,-4.5],[1.6,-8.3],[2,-7.5],[2.4,-5],[2.8,3],[3,6]],0.1,G,'v'),
 mkc([[1,-8.5],[1.4,-4.5],[1.6,-8.3],[2,-7.5],[2.4,-5.2],[2.7,-1.8],[3,-0.8],[4,0]],0.1,R,'o')]);
varPlot(X[3],Y1,W,H1,'Horizon = 100',-10.5,5.5,[4,1,-2,-5,-8],[
 mkc([[1,-2.5],[1.2,-0.5],[1.35,-2.4],[2,-2.1],[2.5,-0.4],[3,0.5],[4,1.5]],0.1,O,'s'),
 mkc([[1,-9.5],[1.3,-5],[1.45,-3],[1.6,-8.5],[2,-8],[2.3,-5.5],[2.6,0],[2.8,6]],0.1,G,'v'),
 mkc([[1,-9.5],[1.3,-5],[1.45,-3],[1.6,-8.5],[2,-8],[2.4,-4.5],[2.7,-1.5],[3,-0.8],[4,1.2]],0.1,R,'o')]);
el('text',{x:2790,y:1668,'font-size':20,'text-anchor':'middle',transform:'rotate(-90 2790 1668)'},P,'Gradient variance');
function leg(x,y,col,m,txt,dash){el('line',{x1:x,x2:x+42,y1:y,y2:y,stroke:col,'stroke-width':2.5,'stroke-dasharray':dash||'none'},P);if(m=='o')el('circle',{cx:x+21,cy:y,r:4.5,fill:col},P);if(m=='s')el('rect',{x:x+16.5,y:y-4.5,width:9,height:9,fill:col},P);if(m=='v')el('path',{d:`M${x+16},${y-4}L${x+26},${y-4}L${x+21},${y+5}Z`,fill:col},P);el('text',{x:x+56,y:y+7,'font-size':21},P,txt);}
leg(2963,1828,R,'o','Total propagation');leg(3210,1828,O,'s','Likelihood ratio');leg(3438,1828,G,'v','Reparameterization');
const Y2=2017,H2=181;
function r2(ctrl,noiseAmp,startNoise){return {col:R,sw:2.2,f:b=>pw(ctrl,b)+(rnd()-0.5)*(b>startNoise?noiseAmp:0.12)};}
const gray=(ctrl)=>({col:'#999',sw:1.8,dash:'6 4',f:b=>pw(ctrl,b)});
varPlot(X[0],Y2,W,H2,'Horizon = 10',-1,4,[4,3,2,1,0,-1],[gray([[1,0],[3.3,0],[3.5,0.15],[4,0.1]]),r2([[1,0],[2.8,0],[3.28,0],[3.3,2.4],[3.6,1.6],[3.9,1.8],[4,0.8]],1.8,3.28)],true);
varPlot(X[1],Y2,W,H2,'Horizon = 25',-1,4,[4,3,2,1,0,-1],[gray([[1,0],[2.6,0],[2.75,0.25],[2.9,0],[4,0]]),r2([[1,0],[1.5,0],[1.55,-0.4],[1.6,0],[2.3,0],[2.4,-0.4],[2.5,0.3],[2.75,1.6],[2.9,1.0],[3.5,0.8],[4,0.5]],0.12,9)],true);
varPlot(X[2],Y2,W,H2,'Horizon = 50',-1,4,[4,3,2,1,0,-1],[gray([[1,0],[2.35,0],[2.45,0.3],[2.55,0],[4,0]]),r2([[1,0],[1.5,0],[1.52,1],[1.54,-1],[1.57,0],[2.35,0],[2.5,1.7],[2.8,0.8],[3.2,0.6],[4,0.3]],0.12,9)],true);
varPlot(X[3],Y2,W,H2,'Horizon = 100',-1,4,[4,3,2,1,0,-1],[gray([[1,0],[1.45,0],[1.5,0.3],[1.55,0],[2.35,0],[2.45,0.1],[4,0]]),r2([[1,0],[1.4,0],[1.45,1],[1.5,4],[1.55,0],[2.2,0],[2.35,1.1],[2.45,2.1],[2.7,0.8],[3.2,0.5],[4,0.3]],0.12,9)],true);
el('text',{x:2790,y:2108,'font-size':20,'text-anchor':'middle',transform:'rotate(-90 2790 2108)'},P,'Gradient accuracy ratio');
leg(2916,2268,R,null,'Total propagation, ratio of improvement');leg(3353,2268,'#999',null,'Optimal naïvely combined gradient','6 4');

(function(){const x=2812,y=1134,w=300,h=218;
 el('rect',{x,y,width:w,height:h,fill:'#fff'},P);const g=el('g',{'clip-path':clip(x,y,w,h),fill:'#1f77b4'},P);
 const bx=b=>x+10+(b-1)/3*(w-20),vy=v=>y+h-(v-0.5)/0.52*h;
 for(let i=0;i<=170;i++){const b=1+3*i/170;const r=2.9+(b-1)/3*1.1;let s=0.4;for(let k=0;k<150;k++)s=r*s*(1-s);const n=b<2.3?6:45;for(let k=0;k<n;k++){s=r*s*(1-s);el('rect',{x:bx(b)-1,y:vy(Math.min(0.99,Math.max(0.51,0.5+0.48*s))),width:2.4,height:2.4},g);}}
 el('rect',{x,y,width:w,height:h,fill:'none',stroke:'#222','stroke-width':2},P);
 ['1.0','0.9','0.8','0.7','0.6','0.5'].forEach((t,i)=>el('text',{x:x-6,y:y+5+i*h/5.2,'font-size':15,'text-anchor':'end','font-family':'DejaVu Sans'},P,t));
 ['1.0','1.5','2.0','2.5','3.0','3.5','4.0'].forEach((t,i)=>el('text',{x:x+12+i*(w-24)/6,y:y+h+17,'font-size':15,'text-anchor':'middle','font-family':'DejaVu Sans'},P,t));
 el('text',{x:x+w/2,y:y+h+35,'font-size':17,'text-anchor':'middle'},P,'Inverse temperature, β');
 el('text',{x:x-40,y:y+h/2,'font-size':18,'font-style':'italic','font-weight':'bold'},P,'x₁');})();
(function(){const x=3190,y=1134,w=273,h=218;
 el('rect',{x,y,width:w,height:h,fill:'#fff',stroke:'#222','stroke-width':2},P);
 const bx=b=>x+(b-1)/3*w,vy=v=>y+h-(v+0.45)/1.45*h;
 el('rect',{x:bx(2.47),y:y,width:bx(4)-bx(2.47),height:h,fill:'#1f77b4'},P);
 [2.6,2.8,2.95,3.2,3.5,3.7].forEach(b=>el('line',{x1:bx(b),x2:bx(b),y1:y,y2:y+h,stroke:'#bcd6ec','stroke-width':1.5},P));
 const ctrl=[[1,0],[1.2,-0.05],[1.28,-0.12],[1.35,0.3],[1.42,0.5],[1.45,0.75],[1.5,0.2],[1.55,0.05],[2.2,0.02],[2.3,-0.15],[2.4,0],[2.47,-0.1]];let pts=[];for(let i=0;i<=120;i++){const b=1+1.47*i/120;pts.push(bx(b).toFixed(1)+','+vy(pw(ctrl,b)+(b>1.4&&b<1.5?(rnd()-0.5)*0.3:0)).toFixed(1));}
 el('polyline',{points:pts.join(' '),fill:'none',stroke:'#1f77b4','stroke-width':2},P);
 ['1.0','0.8','0.6','0.4','0.2','0.0','−0.2','−0.4'].forEach((t,i)=>el('text',{x:x-6,y:y+5+i*h*0.97/7.25,'font-size':15,'text-anchor':'end','font-family':'DejaVu Sans'},P,t));
 ['1.0','1.5','2.0','2.5','3.0','3.5','4.0'].forEach((t,i)=>el('text',{x:x+i*w/6,y:y+h+17,'font-size':15,'text-anchor':'middle','font-family':'DejaVu Sans'},P,t));
 el('text',{x:x+w/2,y:y+h+35,'font-size':17,'text-anchor':'middle'},P,'Inverse temperature, β');
 el('text',{x:3148,y:y+h/2,'font-size':16,'text-anchor':'middle',transform:`rotate(-90 3148 ${y+h/2})`},P,'Gradient of loss, dL/dβ');})();
(function(){const x=3536,y=1134,w=226,h=218;
 el('rect',{x,y,width:w,height:h,fill:'#000'},P);const g=el('g',{'clip-path':clip(x,y,w,h)},P);
 const px=v=>x+v*w,py=v=>y+h-v*h;
 el('polygon',{points:`${px(0)},${py(0.04)} ${px(0.96)},${py(1)} ${px(0.38)},${py(1)} ${px(0)},${py(0.62)}`,fill:'#f2b860'},g);
 for(let k=0;k<40;k++){const o=0.05+k*0.0145;const c=['#fff2c8','#e88a38','#fbd890','#c86020'][k%4];el('line',{x1:px(0),y1:py(o),x2:px(1-o),y2:py(1),stroke:c,'stroke-width':2+(k%3),opacity:0.8},g);}
 for(let k=0;k<9;k++){const o=-0.05-k*0.07;el('line',{x1:px(-o),y1:py(0),x2:px(1),y2:py(1+o),stroke:'#7a0c00','stroke-width':1.5,opacity:0.8},g);}
 el('line',{x1:px(0),y1:py(0.04),x2:px(0.96),y2:py(1),stroke:'#b01800','stroke-width':2},g);
 el('rect',{x,y,width:w,height:h,fill:'none',stroke:'#222','stroke-width':1.5},P);
 el('rect',{x:3783,y,width:14,height:h,fill:'url(#cbar)',stroke:'#222','stroke-width':1},P);
 ['0.8','0.6','0.4','0.2'].forEach((t,i)=>el('text',{x:3802,y:y+h*(0.2+0.2*i)+5,'font-size':15,'font-family':'DejaVu Sans'},P,t));
 ['1.0','0.8','0.6','0.4','0.2','0.0'].forEach((t,i)=>el('text',{x:x-5,y:y+5+i*h/5,'font-size':15,'text-anchor':'end','font-family':'DejaVu Sans'},P,t));
 ['0.0','0.2','0.4','0.6','0.8','1.0'].forEach((t,i)=>el('text',{x:x+i*w/5,y:y+h+15,'font-size':15,'text-anchor':'middle','font-family':'DejaVu Sans'},P,t));
 el('text',{x:x+w/2,y:y+h+35,'font-size':18,'font-style':'italic','font-weight':'bold','text-anchor':'middle'},P,'x₁');
 el('text',{x:3500,y:y+h/2,'font-size':18,'font-style':'italic','font-weight':'bold'},P,'x₂');})();

(function(){const A=document.getElementById('adap');
 function node(cx,cy,t){el('circle',{cx,cy,r:19,fill:'#fff',stroke:'#222','stroke-width':2},A);el('text',{x:cx,y:cy+6,'font-size':16,'font-style':'italic','text-anchor':'middle'},A,t);}
 function arr(x1,y1,x2,y2,d){el('line',{x1,y1,x2,y2,stroke:'#222','stroke-width':2,'marker-end':'url(#ah)','stroke-dasharray':d||'none'},A);}
 function chain(xs,y,box,boxt,back){const [x0,x1,x2,L]=xs;
  if(!back){arr(x0+19,y,x1-19,y);arr(x1+19,y,box[0],y);arr(box[1],y,x2-19,y);arr(x2+19,y,x2+70,y);arr(L-60,y,L-19,y);}
  else{arr(x1-19,y,x0+19,y);arr(box[0],y,x1+19,y);arr(x2-19,y,box[1],y);arr(x2+70,y,x2+19,y);arr(L-19,y,L-60,y);}
  node(x0,y,'x₀');node(x1,y,'x₁');node(x2,y,'x₂');node(L,y,'L');
  el('rect',{x:box[0],y:y-17,width:box[1]-box[0],height:34,fill:'#fff',stroke:'#222','stroke-width':2},A);
  el('text',{x:(box[0]+box[1])/2,y:y+6,'font-size':15,'text-anchor':'middle'},A,boxt);
  el('text',{x:(x2+L)/2+8,y:y+6,'font-size':26,'text-anchor':'middle'},A,'· · ·');
  const cx=(box[0]+box[1])/2;arr(cx,y-17,cx,y-52,'5 4');el('text',{x:cx,y:y-58,'font-size':15,'font-style':'italic','text-anchor':'middle'},A,'z₁');}
 const L1=[1370,1484,1714,1943],R1=[2017,2131,2361,2591];
 chain(L1,2006,[1530,1667],'x₂, z₁ = forward(x₁)');chain(R1,2006,[2179,2313],'x₂, z₁ = forward(x₁)');
 chain(L1,2256,[1527,1670],'v₁ = backward(v₂, z₁)',1);chain(R1,2256,[2176,2316],'v₁ = backward(v₂, z₁)',1);
 const T=(x,y,s,t,st)=>el('text',Object.assign({x,y,'font-size':s,'text-anchor':'middle'},st||{}),A,t);
 T(1663,1902,36,'AD forward pass',{'font-weight':'bold'});T(2255,1902,36,'AP forward pass',{'font-weight':'bold'});
 T(1663,2152,36,'AD backward pass',{'font-weight':'bold'});T(2255,2152,36,'AP backward pass',{'font-weight':'bold'});
 T(1599,1936,19,'cached variables');T(2247,1936,19,'user defined cached variables');
 T(1599,2187,19,'cached variables');T(2247,2187,19,'user defined cached variables');
 T(2246,2036,19,'user defined forward');T(2246,2292,19,'user defined backward');T(2246,2314,19,'and message v₁');
 T(1599,2287,16,'v₁ = v₂ × ∂x₂/∂x₁',{'font-style':'italic'});T(1897,2222,16,'v_H = ∂L/∂x_H',{'font-style':'italic'});
 T(2520,2204,19,'user defined message');T(2520,2222,16,'v_H',{'font-style':'italic'});})();
</script>
</body></html>
